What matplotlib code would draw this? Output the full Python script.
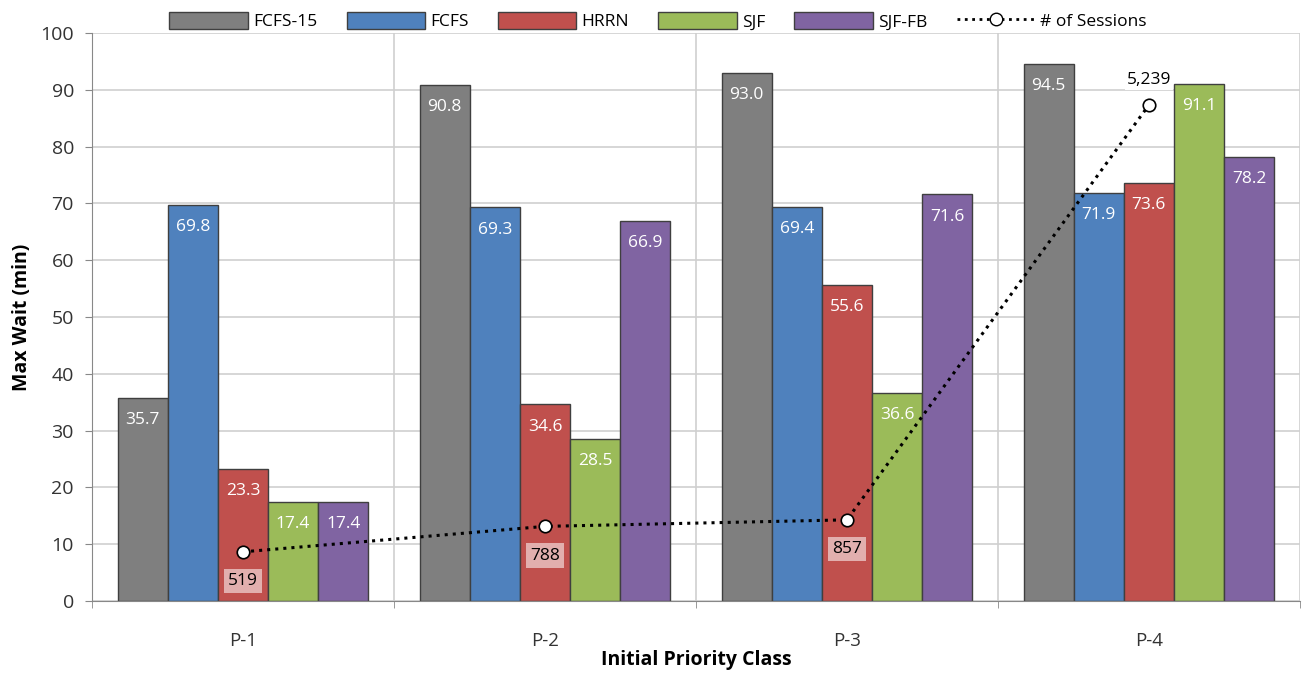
import matplotlib
matplotlib.use("Agg")
import matplotlib.pyplot as plt
from matplotlib.lines import Line2D
from matplotlib.patches import Patch
import numpy as np

plt.rcParams['font.family'] = ['Open Sans', 'DejaVu Sans']

# data
classes = ['P-1', 'P-2', 'P-3', 'P-4']
series = ['FCFS-15', 'FCFS', 'HRRN', 'SJF', 'SJF-FB']
fcfs15 = [35.7, 90.8, 93.0, 94.5]
fcfs = [69.8, 69.3, 69.4, 71.9]
hrrn = [23.3, 34.6, 55.6, 73.6]
sjf = [17.4, 28.5, 36.6, 91.1]
sjf_fb = [17.4, 66.9, 71.6, 78.2]
sessions = [519, 788, 857, 5239]

colors = ['#7f7f7f', '#4f81bd', '#c0504d', '#9bbb59', '#8064a2']
values = [fcfs15, fcfs, hrrn, sjf, sjf_fb]

fig = plt.figure(figsize=(13.03, 6.77), dpi=100)
ax = fig.add_axes([0.0706, 0.1123, 0.927, 0.839])

x = np.arange(len(classes))
w = 0.166
for k, (vals, c) in enumerate(zip(values, colors)):
    pos = x + (k - 2) * w
    ax.bar(pos, vals, w, color=c, edgecolor='#3f3f3f', linewidth=1.0, zorder=2)
    for px, v in zip(pos, vals):
        ax.annotate(f'{v:.1f}', (px, v), xytext=(0, -16), textcoords='offset points',
                    ha='center', va='center', color='white', fontsize=12.5, zorder=3)

ax.set_xlim(-0.5, 3.5)
ax.set_ylim(0, 100)
ax.set_yticks(np.arange(0, 101, 10))
ax.set_xticks(x)
ax.set_xticklabels(classes)
ax.set_xticks(np.arange(-0.5, 3.6, 1), minor=True)
ax.tick_params(axis='x', which='major', length=0, labelsize=13.5, pad=22, colors='#333333')
ax.tick_params(axis='x', which='minor', length=5, color='#888888')
ax.tick_params(axis='y', length=5, color='#888888', labelsize=14, colors='#333333', pad=8)
ax.grid(axis='y', color='#cfcfcf', linewidth=1.2, zorder=0)
ax.grid(axis='x', which='minor', color='#cfcfcf', linewidth=1.2, zorder=0)
ax.set_axisbelow(True)
for s in ['top', 'right']:
    ax.spines[s].set_visible(False)
ax.spines['left'].set_color('#888888')
ax.spines['bottom'].set_color('#888888')
ax.set_ylabel('Max Wait (min)', fontsize=14, fontweight='bold', labelpad=6)
ax.set_xlabel('Initial Priority Class', fontsize=14, fontweight='bold', labelpad=0)

# sessions on a hidden secondary scale
ax2 = ax.twinx()
ax2.set_ylim(0, 6000)
ax2.axis('off')
ax2.plot(x, sessions, linestyle=':', color='black', linewidth=2.2, marker='o',
         markersize=9, markerfacecolor='white', markeredgecolor='black',
         markeredgewidth=1.2, zorder=5)
for i, s in enumerate(sessions):
    if i < 3:
        ax2.annotate(f'{s:,}', (x[i], s), xytext=(0, -21), textcoords='offset points',
                     ha='center', va='center', fontsize=12.5, color='black',
                     bbox=dict(boxstyle='square,pad=0.25', fc='white', ec='none', alpha=0.55))
    else:
        ax2.annotate(f'{s:,}', (x[i], s), xytext=(0, 18), textcoords='offset points',
                     ha='center', va='center', fontsize=12.5, color='black',
                     bbox=dict(boxstyle='square,pad=0.1', fc='white', ec='none'))

handles = [Patch(facecolor=c, edgecolor='#3f3f3f', label=n) for n, c in zip(series, colors)]
handles.append(Line2D([], [], linestyle=':', color='black', linewidth=2, marker='o',
                      markersize=9, markerfacecolor='white', markeredgecolor='black',
                      label='# of Sessions'))
fig.legend(handles=handles, loc='upper center', bbox_to_anchor=(0.505, 1.005), ncol=6,
           frameon=False, fontsize=12.5, handlelength=4.5, handleheight=1.1,
           columnspacing=1.7, handletextpad=0.3)

fig.savefig('out.png', dpi=100)
